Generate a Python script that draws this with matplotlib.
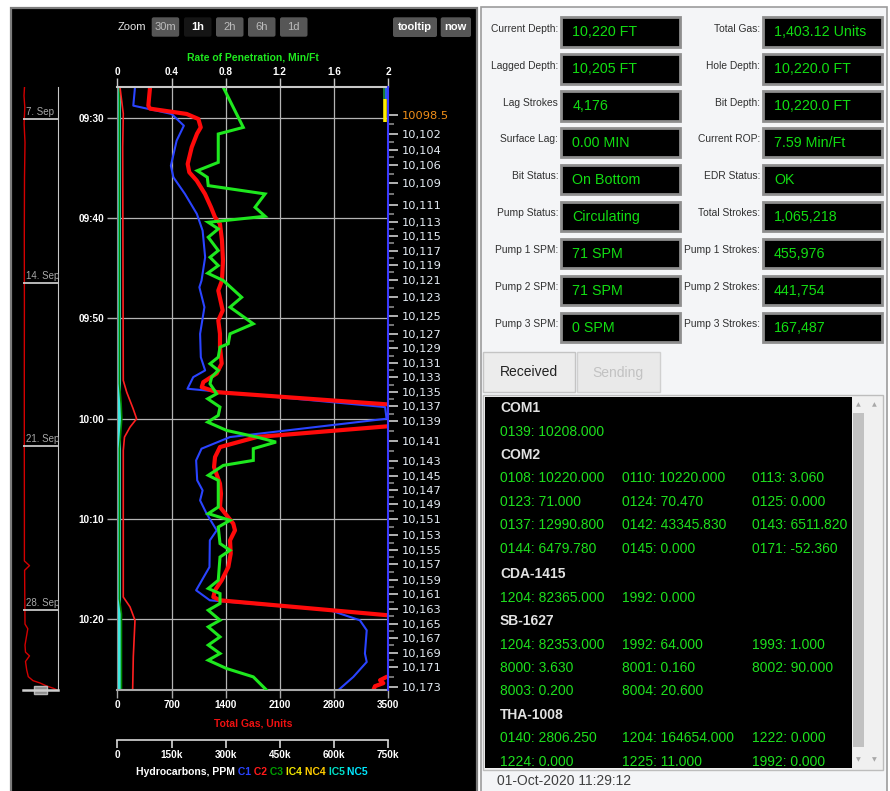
import matplotlib
matplotlib.use('Agg')
import matplotlib.pyplot as plt
from matplotlib.patches import Rectangle, FancyBboxPatch
from matplotlib.transforms import Bbox, TransformedBbox, blended_transform_factory

plt.rcParams['font.family'] = ['Liberation Sans', 'DejaVu Sans']

# ---------------- DATA ----------------
# time is expressed in minutes after 09:00
time_ticks = [30, 40, 50, 60, 70, 80]
time_labels = ['09:30', '09:40', '09:50', '10:00', '10:10', '10:20']
t_start, t_end = 26.94, 87.08

rop_ticks = [0, 0.4, 0.8, 1.2, 1.6, 2]
rop_labels = ['0', '0.4', '0.8', '1.2', '1.6', '2']
gas_ticks = [0, 700, 1400, 2100, 2800, 3500]
gas_labels = ['0', '700', '1400', '2100', '2800', '3500']
hc_ticks = [0, 150000, 300000, 450000, 600000, 750000]
hc_labels = ['0', '150k', '300k', '450k', '600k', '750k']

depth_labels = ['10098.5', '10,102', '10,104', '10,106', '10,109', '10,111', '10,113', '10,115',
                '10,117', '10,119', '10,121', '10,123', '10,125', '10,127', '10,129', '10,131',
                '10,133', '10,135', '10,137', '10,139', '10,141', '10,143', '10,145', '10,147',
                '10,149', '10,151', '10,153', '10,155', '10,157', '10,159', '10,161', '10,163',
                '10,165', '10,167', '10,169', '10,171', '10,173']
depth_times = [29.70, 31.60, 33.19, 34.66, 36.52, 38.71, 40.41, 41.80, 43.23, 44.63, 46.12,
               47.89, 49.78, 51.54, 52.97, 54.47, 55.86, 57.36, 58.75, 60.25, 62.24, 64.24,
               65.69, 67.08, 68.48, 70.05, 71.65, 73.14, 74.54, 76.13, 77.53, 79.03, 80.45,
               81.88, 83.34, 84.78, 86.77]

# Total gas (units)
gas_t = [26.94, 28.77, 29.07, 29.60, 30.10, 30.94, 31.57, 32.93, 34.59, 35.42, 36.25, 37.58,
         38.91, 39.91, 40.57, 42.23, 44.23, 46.22, 47.22, 49.21, 50.21, 51.54, 52.87, 54.50,
         55.49, 56.36, 56.86, 57.36, 59.18, 60.08, 61.84, 62.84, 63.84, 64.84, 66.49, 67.49,
         68.82, 70.48, 71.15, 72.15, 73.47, 74.81, 76.13, 77.13, 77.80, 78.13, 80.62, 85.11,
         85.77, 86.10, 86.40, 86.70, 87.10]
gas_v = [421, 399, 421, 895, 1046, 1077, 1029, 960, 908, 929, 1025, 1132,
         1210, 1262, 1326, 1352, 1365, 1352, 1304, 1361, 1304, 1326, 1326, 1348,
         1284, 1110, 1090, 1284, 4580, 4580, 1801, 1326, 1262, 1249, 1326, 1339,
         1326, 1498, 1520, 1456, 1465, 1434, 1348, 1262, 1240, 1326, 4950, 4950,
         3483, 3397, 3439, 3332, 3310]

# Rate of penetration (min/ft)
rop_t = [26.94, 30.94, 31.60, 34.43, 35.26, 35.92, 36.75, 37.58, 38.91, 39.81, 40.41, 41.07,
         41.90, 43.23, 43.90, 44.73, 45.49, 46.22, 47.89, 48.88, 50.54, 51.54, 52.53, 52.87,
         53.87, 54.53, 55.19, 55.86, 56.52, 57.52, 58.02, 58.85, 59.68, 60.35, 61.18, 61.84,
         62.34, 63.00, 64.17, 64.67, 65.66, 66.16, 68.82, 69.48, 70.15, 70.82, 72.47, 73.14,
         73.81, 76.13, 76.95, 77.46, 78.45, 79.12, 80.12, 80.78, 81.78, 82.60, 83.44, 84.11,
         84.94, 85.77, 87.10]
rop_v = [0.782, 0.930, 0.745, 0.745, 0.590, 0.664, 0.671, 1.091, 1.017, 1.091, 0.671, 0.745,
         0.671, 0.745, 0.684, 0.745, 0.667, 0.782, 0.918, 0.832, 1.004, 0.832, 0.819, 0.758,
         0.745, 0.684, 0.745, 0.696, 0.684, 0.733, 0.667, 0.758, 0.745, 0.667, 0.807, 1.029,
         1.172, 1.004, 1.004, 0.782, 0.671, 0.745, 0.745, 0.671, 0.832, 0.745, 0.758, 0.832,
         0.758, 0.745, 0.671, 0.758, 0.758, 0.671, 0.758, 0.671, 0.758, 0.671, 0.758, 0.671,
         0.807, 1.004, 1.103]

# Hydrocarbons (ppm)
c1_t = [26.94, 28.77, 29.60, 30.77, 32.26, 34.76, 35.92, 37.58, 39.57, 41.24, 43.90, 46.22,
        46.89, 48.88, 51.54, 53.87, 55.19, 55.86, 57.02, 58.85, 60.01, 61.84, 63.00, 64.17,
        66.16, 67.16, 68.16, 69.48, 71.15, 72.15, 74.81, 77.13, 78.13, 79.12, 80.12, 81.12,
        83.44, 84.28, 85.77, 87.10]
c1_v = [48500, 43800, 150000, 184000, 164000, 148000, 155000, 187000, 220000, 236000, 243000,
        233000, 227000, 241000, 229000, 231000, 243000, 210000, 194000, 742000, 746000, 312000,
        233000, 218000, 221000, 236000, 229000, 247000, 275000, 256000, 255000, 218000, 256000,
        589000, 672000, 691000, 686000, 691000, 654000, 612000]
c2_t = [26.94, 29.57, 32.93, 56.19, 57.36, 58.98, 60.01, 60.85, 61.84, 63.17, 77.80, 78.79,
        80.12, 83.78, 87.10]
c2_v = [6900, 16000, 14400, 16000, 25500, 43000, 53000, 34700, 19400, 16000, 16000, 34700,
        48500, 43800, 42000]
c3_t = [26.94, 56.5, 58.5, 60.0, 61.8, 63.0, 78.0, 79.5, 87.1]
c3_v = [5500, 5500, 10000, 12000, 8000, 5500, 5500, 11000, 11000]
ic5_t = [26.94, 87.10]
ic5_v = [3000, 3000]
ic4_t = [28.11, 30.41]
ic4_v = [741000, 741000]
c3_top_t = [26.94, 28.11]
c3_top_v = [738000, 738000]
c1_top_v = [745000, 745000]

hc_names = ['C1', 'C2', 'C3', 'IC4', 'NC4', 'IC5', 'NC5']
hc_colors = ['#2a44ff', '#ff1a1a', '#00a000', '#f0e600', '#ffcc00', '#00e0c8', '#00e8ff']

# navigator (days since 31 Aug, total gas)
nav_days = [5.64, 6.0, 6.5, 7.2, 8.0, 9.5, 12.0, 15.0, 18.0, 21.0, 24.0, 25.9, 26.1, 26.3,
            27.5, 28.6, 28.8, 29.5, 29.8, 29.96, 30.2, 30.56, 30.85, 31.02, 31.12, 31.25,
            31.34, 31.42]
nav_vals = [150, 100, 180, 110, 200, 150, 130, 140, 130, 130, 140, 140, 650, 160,
            180, 200, 480, 200, 250, 650, 250, 370, 530, 1000, 1700, 2370, 3000, 3400]
nav_dates = [7, 14, 21, 28]
nav_date_labels = ['7. Sep', '14. Sep', '21. Sep', '28. Sep']

zoom_buttons = ['30m', '1h', '2h', '6h', '1d']
zoom_selected = '1h'

left_labels = ['Current Depth:', 'Lagged Depth:', 'Lag Strokes', 'Surface Lag:', 'Bit Status:',
               'Pump Status:', 'Pump 1 SPM:', 'Pump 2 SPM:', 'Pump 3 SPM:']
left_values = ['10,220 FT', '10,205 FT', '4,176', '0.00 MIN', 'On Bottom', 'Circulating',
               '71 SPM', '71 SPM', '0 SPM']
right_labels = ['Total Gas:', 'Hole Depth:', 'Bit Depth:', 'Current ROP:', 'EDR Status:',
                'Total Strokes:', 'Pump 1 Strokes:', 'Pump 2 Strokes:', 'Pump 3 Strokes:']
right_values = ['1,403.12 Units', '10,220.0 FT', '10,220.0 FT', '7.59 Min/Ft', 'OK',
                '1,065,218', '455,976', '441,754', '167,487']

msg_sections = [
    ('COM1', [['0139: 10208.000']]),
    ('COM2', [['0108: 10220.000', '0110: 10220.000', '0113: 3.060'],
              ['0123: 71.000', '0124: 70.470', '0125: 0.000'],
              ['0137: 12990.800', '0142: 43345.830', '0143: 6511.820'],
              ['0144: 6479.780', '0145: 0.000', '0171: -52.360']]),
    ('CDA-1415', [['1204: 82365.000', '1992: 0.000']]),
    ('SB-1627', [['1204: 82353.000', '1992: 64.000', '1993: 1.000'],
                 ['8000: 3.630', '8001: 0.160', '8002: 90.000'],
                 ['8003: 0.200', '8004: 20.600']]),
    ('THA-1008', [['0140: 2806.250', '1204: 164654.000', '1222: 0.000'],
                  ['1224: 0.000', '1225: 11.000', '1992: 0.000']]),
]
timestamp = '01-Oct-2020 11:29:12'

# ---------------- FIGURE ----------------
W, H = 890, 791
fig = plt.figure(figsize=(W / 100, H / 100), dpi=100, facecolor='white')


def frac_rect(x0, y0, x1, y1):
    return [x0 / W, 1 - y1 / H, (x1 - x0) / W, (y1 - y0) / H]


bg = fig.add_axes([0, 0, 1, 1])
bg.set_xlim(0, W)
bg.set_ylim(H, 0)
bg.axis('off')
bg.set_zorder(0)

# panels
bg.add_patch(Rectangle((11, 8), 466, 790, facecolor='black', edgecolor='#7c7c7c', lw=1.6))
bg.add_patch(Rectangle((481, 7), 406, 790, facecolor='#f4f5f7', edgecolor='#9c9c9c', lw=1.2))

# zoom buttons
bg.text(118, 27, 'Zoom', color='#e6e6e6', fontsize=8, va='center', ha='left')
bx = [151.7, 184, 216, 248, 280]
for x0, name in zip(bx, zoom_buttons):
    sel = name == zoom_selected
    bg.add_patch(FancyBboxPatch((x0, 17.3), 27.5, 19.4, boxstyle='round,pad=0,rounding_size=2',
                                facecolor='#151515' if sel else '#565656', edgecolor='none'))
    bg.text(x0 + 13.75, 27, name, color='white' if sel else '#bcbcbc', fontsize=8,
            fontweight='bold' if sel else 'normal', ha='center', va='center')
for x0, x1, name in [(393, 437, 'tooltip'), (440.7, 471, 'now')]:
    bg.add_patch(FancyBboxPatch((x0, 17.3), x1 - x0, 19.7, boxstyle='round,pad=0,rounding_size=2',
                                facecolor='#565656', edgecolor='none'))
    bg.text((x0 + x1) / 2, 27.3, name, color='white', fontsize=8, fontweight='bold',
            ha='center', va='center')

# ---------------- MAIN CHART ----------------
ax = fig.add_axes(frac_rect(117.5, 87.3, 388, 690))
ax.set_zorder(1)
ax.set_facecolor('black')
ax.set_xlim(0, 750000)
ax.set_ylim(t_end, t_start)
ax.spines['bottom'].set_position(('outward', 36))
ax.spines['bottom'].set_color('#d8d8d8')
ax.spines['bottom'].set_linewidth(1.2)
ax.spines['top'].set_visible(False)
ax.spines['right'].set_visible(False)
ax.spines['left'].set_color('#8a8a8a')
ax.set_xticks(hc_ticks)
ax.set_xticklabels(hc_labels, fontweight='bold')
ax.tick_params(axis='x', colors='#d8d8d8', labelcolor='white', length=5.8, width=1.2,
               pad=1.2, labelsize=7.2)
ax.set_yticks(time_ticks)
ax.set_yticklabels(time_labels, fontweight='bold')
ax.tick_params(axis='y', colors='#b0b0b0', labelcolor='white', length=7.2, width=1,
               pad=2.4, labelsize=7.2)
ax.grid(True, color='#b4b4b4', lw=0.9)

ax.plot(ic5_v, ic5_t, color='#40e8e0', lw=2.2, zorder=3)
ax.plot(c3_v, c3_t, color='#008a00', lw=1.2, zorder=3)
ax.plot(c2_v, c2_t, color='#ff2020', lw=1.2, zorder=3)
ax.plot(c1_v, c1_t, color='#2a44ff', lw=1.5, zorder=4)
ax.plot(ic4_v, ic4_t, color='#ffee00', lw=2.6, zorder=4, solid_capstyle='butt')
ax.plot(c3_top_v, c3_top_t, color='#1e8a3a', lw=1.3, zorder=4, solid_capstyle='butt')
ax.plot(c1_top_v, c3_top_t, color='#2a6aff', lw=1.3, zorder=4, solid_capstyle='butt')

ax_gas = ax.twiny()
ax_gas.set_zorder(2)
ax_gas.set_xlim(0, 3500)
ax_gas.xaxis.set_ticks_position('bottom')
ax_gas.xaxis.set_label_position('bottom')
for s in ['top', 'left', 'right']:
    ax_gas.spines[s].set_visible(False)
ax_gas.spines['bottom'].set_color('#a8a8a8')
ax_gas.spines['bottom'].set_linewidth(1.5)
ax_gas.set_xticks(gas_ticks)
ax_gas.set_xticklabels(gas_labels, fontweight='bold')
ax_gas.tick_params(axis='x', colors='#a8a8a8', labelcolor='white', length=5.8, width=1,
                   pad=1.6, labelsize=7.2)
ax_gas.plot(gas_v, gas_t, color='#ff0a0a', lw=3.0, solid_joinstyle='round')

ax_rop = ax.twiny()
ax_rop.set_zorder(3)
ax_rop.set_xlim(0, 2)
for s in ['bottom', 'left', 'right']:
    ax_rop.spines[s].set_visible(False)
ax_rop.spines['top'].set_color('#c8c8c8')
ax_rop.spines['top'].set_linewidth(1.5)
ax_rop.set_xticks(rop_ticks)
ax_rop.set_xticklabels(rop_labels, fontweight='bold')
ax_rop.tick_params(axis='x', colors='#c8c8c8', labelcolor='white', length=6.5, width=1,
                   pad=1.0, labelsize=7.2)
ax_rop.plot(rop_v, rop_t, color='#1ee81e', lw=2.2, solid_joinstyle='miter')

ax_dep = ax.twinx()
ax_dep.set_zorder(4)
ax_dep.set_ylim(t_end, t_start)
for s in ['bottom', 'left', 'top']:
    ax_dep.spines[s].set_visible(False)
ax_dep.spines['right'].set_color('#3a3aff')
ax_dep.spines['right'].set_linewidth(1.5)
ax_dep.set_yticks(depth_times)
ax_dep.set_yticklabels(depth_labels, family='DejaVu Sans')
minor_times = [(a + b) / 2 for a, b in zip(depth_times[:-1], depth_times[1:])]
ax_dep.set_yticks(minor_times, minor=True)
ax_dep.tick_params(axis='y', which='major', colors='#d0d0d0', labelcolor='#e4ecf4',
                   length=7.2, width=1.2, pad=2.4, labelsize=8.2)
ax_dep.tick_params(axis='y', which='minor', colors='#8a8a8a', length=4, width=1.2)
ax_dep.get_yticklabels()[0].set_color('#f39019')
ax_dep.yaxis.get_major_ticks()[0].tick2line.set_color('#d2861a')

# axis titles
fig.text(253 / W, 1 - 57 / H, 'Rate of Penetration, Min/Ft', color='#1ee81e', fontsize=7.5,
         fontweight='bold', ha='center', va='center')
fig.text(253 / W, 1 - 723 / H, 'Total Gas, Units', color='#ee1111', fontsize=7.5,
         fontweight='bold', ha='center', va='center')
prev = bg.text(136, 772, 'Hydrocarbons, PPM', color='white', fontsize=7.5, fontweight='bold',
               ha='left', va='center')
for name, col in zip(hc_names, hc_colors):
    prev = bg.annotate(' ' + name, xy=(1, 0), xycoords=prev, ha='left', va='bottom',
                       color=col, fontsize=7.5, fontweight='bold')

# ---------------- NAVIGATOR ----------------
nav = fig.add_axes(frac_rect(23, 87.3, 58, 690))
nav.set_zorder(2)
nav.patch.set_visible(False)
nav.set_xlim(0, 3500)
nav.set_ylim(31.42, 5.64)
for s in ['bottom', 'left', 'top']:
    nav.spines[s].set_visible(False)
nav.spines['right'].set_color('#c8c8c8')
nav.set_xticks([])
nav.set_yticks([])
nav.plot(nav_vals, nav_days, color='#d40000', lw=1.0)
btr = blended_transform_factory(nav.transAxes, nav.transData)
for d, lab in zip(nav_dates, nav_date_labels):
    nav.axhline(d, color='#d8d8d8', lw=1.2)
    nav.annotate(lab, xy=(0.1, d), xycoords=btr, xytext=(0, 1.5), textcoords='offset points',
                 color='#a8a8a8', fontsize=7, ha='left', va='bottom')

fg = fig.add_axes([0, 0, 1, 1])
fg.set_xlim(0, W)
fg.set_ylim(H, 0)
fg.axis('off')
fg.set_zorder(10)
fg.plot([23, 58], [690, 690], color='#cfcfcf', lw=1.8)
fg.add_patch(Rectangle((34, 686), 13, 8, facecolor='#8e8e8e', edgecolor='#b8b8b8', lw=1))

# ---------------- RIGHT PANEL ----------------
for i in range(9):
    yc = 32 + i * 36.9
    for (bx0, lx, vx, labs, vals) in [(561, 558.3, 572.3, left_labels, left_values),
                                      (763, 760, 774, right_labels, right_values)]:
        bg.add_patch(Rectangle((bx0, yc - 14.7), 119, 29.4, facecolor='black',
                               edgecolor='#8e8e8e', lw=2))
        bg.text(lx, yc - 3.3, labs[i], ha='right', va='center', fontsize=7.4, color='#303030')
        bg.text(vx, yc + 0.3, vals[i], ha='left', va='center', fontsize=10.3, color='#12dd12')

# tabs
bg.add_patch(Rectangle((483, 352), 92, 40, facecolor='#ececec', edgecolor='#c4c4c4', lw=1))
bg.text(529, 372.5, 'Received', ha='center', va='center', fontsize=10, color='#222222')
bg.add_patch(Rectangle((577, 352), 83, 40, facecolor='#e9e9e9', edgecolor='#d0d0d0', lw=1))
bg.text(618, 372.5, 'Sending', ha='center', va='center', fontsize=10, color='#c2c2c2')

# messages box
bg.add_patch(Rectangle((483, 395), 400, 375, facecolor='#f0f0f0', edgecolor='#bdbdbd', lw=1))
bg.add_patch(Rectangle((485, 397), 367, 371, facecolor='black', edgecolor='none'))
bg.add_patch(Rectangle((853, 413), 11, 334, facecolor='#c1c1c1', edgecolor='none'))
for ax_x in [858.5, 874]:
    bg.text(ax_x, 405, '\u25b2', fontsize=4.5, color='#a8a8a8', ha='center', va='center',
            family='DejaVu Sans')
    bg.text(ax_x, 760, '\u25bc', fontsize=4.5, color='#a8a8a8', ha='center', va='center',
            family='DejaVu Sans')

clip = TransformedBbox(Bbox([[485, 397], [852, 768]]), bg.transData)
col_x = [500, 621.7, 752.3]
line = 0
for header, rows in msg_sections:
    y = 408.3 + line * 23.4 + (2.3 if line >= 7 else 0)
    t = bg.text(500, y, header, fontsize=10, fontweight='bold', color='#e2e2e2',
                ha='left', va='center')
    t.set_clip_box(clip)
    line += 1
    for row in rows:
        y = 408.3 + line * 23.4 + (2.3 if line >= 7 else 0)
        for cx, item in zip(col_x, row):
            t = bg.text(cx, y, item, fontsize=10, color='#1ee01e', ha='left', va='center')
            t.set_clip_box(clip)
        line += 1

bg.text(497, 781, timestamp, fontsize=10, color='#404040', ha='left', va='center')

fig.savefig('out.png', dpi=100, facecolor='white')
